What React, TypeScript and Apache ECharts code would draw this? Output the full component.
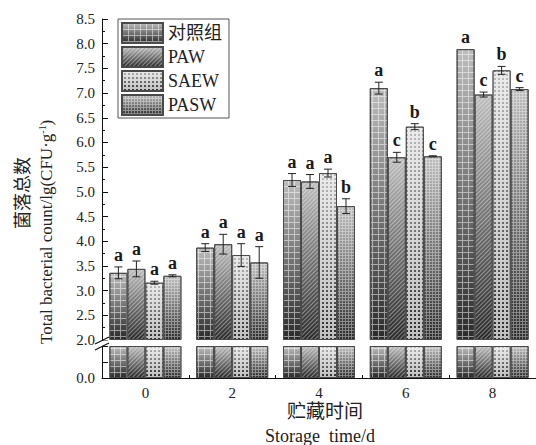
import React, { useEffect, useRef } from 'react';
import * as echarts from 'echarts';

// ---------- data ----------
const days = ['0', '2', '4', '6', '8'];
const seriesNames = ['对照组', 'PAW', 'SAEW', 'PASW'];

const controlValues = [3.36, 3.87, 5.24, 7.10, 7.89];
const controlErrors = [0.12, 0.08, 0.13, 0.12, 0.0];
const controlLetters = ['a', 'a', 'a', 'a', 'a'];

const pawValues = [3.44, 3.94, 5.21, 5.70, 6.97];
const pawErrors = [0.16, 0.20, 0.14, 0.10, 0.05];
const pawLetters = ['a', 'a', 'a', 'c', 'c'];

const saewValues = [3.16, 3.72, 5.38, 6.32, 7.46];
const saewErrors = [0.03, 0.23, 0.08, 0.06, 0.08];
const saewLetters = ['a', 'a', 'a', 'b', 'b'];

const paswValues = [3.30, 3.57, 4.71, 5.72, 7.08];
const paswErrors = [0.02, 0.32, 0.15, 0.01, 0.03];
const paswLetters = ['a', 'a', 'b', 'c', 'c'];

const upperMin = 2.0;
const upperMax = 8.5;
const upperInterval = 0.5;
const lowerMin = 0;
const lowerMax = 2.0;

const yNameCn = '菌落总数';
const yNameEn = 'Total bacterial count/lg(CFU·g{sup|-1})';
const xNameCn = '贮藏时间';
const xNameEn = 'Storage  time/d';

// ---------- styling ----------
const SERIF = "'Liberation Serif', 'DejaVu Serif', 'Noto Sans CJK SC', serif";
const TEXT = '#222';
const BAR_W = 18;

const allValues = [controlValues, pawValues, saewValues, paswValues];
const allErrors = [controlErrors, pawErrors, saewErrors, paswErrors];
const allLetters = [controlLetters, pawLetters, saewLetters, paswLetters];

const gradient = () =>
  new echarts.graphic.LinearGradient(0, 0, 0, 1, [
    { offset: 0, color: '#bdbdbd' },
    { offset: 1, color: '#2a2a2a' },
  ]);

const decals: any[] = [
  {
    symbol: 'rect', symbolSize: 1, symbolKeepAspect: false,
    color: 'rgba(255,255,255,0.5)', backgroundColor: null,
    dashArrayX: [[6, 0], [1, 5]], dashArrayY: [1, 0, 5, 0], rotation: 0,
  },
  {
    symbol: 'rect', symbolSize: 1, symbolKeepAspect: false,
    color: 'rgba(255,255,255,0.4)', backgroundColor: null,
    dashArrayX: [[12, 0]], dashArrayY: [1, 2], rotation: -Math.PI / 4,
  },
  {
    symbol: 'rect', symbolSize: 1, symbolKeepAspect: false,
    color: 'rgba(255,255,255,0.7)', backgroundColor: null,
    dashArrayX: [[4, 0], [2, 2]], dashArrayY: [2, 0, 2, 0], rotation: 0,
  },
  {
    symbol: 'rect', symbolSize: 1, symbolKeepAspect: false,
    color: 'rgba(255,255,255,0.4)', backgroundColor: null,
    dashArrayX: [[3, 0], [1, 2]], dashArrayY: [1, 0, 2, 0], rotation: 0,
  },
];

export default function App() {
  const ref = useRef<HTMLDivElement>(null);

  useEffect(() => {
    if (!ref.current) return;
    const chart = echarts.init(ref.current, undefined, { renderer: 'svg' });

    const barStyle = (k: number) => ({
      color: gradient(),
      borderColor: '#4a4a4a',
      borderWidth: 1,
      decal: decals[k],
    });

    const upperBars = seriesNames.map((name, k) => ({
      name,
      type: 'bar',
      xAxisIndex: 0,
      yAxisIndex: 0,
      barWidth: BAR_W,
      barGap: '0%',
      clip: true,
      data: allValues[k],
      itemStyle: barStyle(k),
      emphasis: { disabled: true },
    }));

    const lowerBars = seriesNames.map((name, k) => ({
      name,
      type: 'bar',
      xAxisIndex: 1,
      yAxisIndex: 1,
      barWidth: BAR_W,
      barGap: '0%',
      clip: true,
      data: allValues[k].map((v) => Math.min(v, lowerMax)),
      itemStyle: barStyle(k),
      emphasis: { disabled: true },
    }));

    const errorSeries = seriesNames.map((name, k) => ({
      name: name + '-err',
      type: 'custom',
      xAxisIndex: 0,
      yAxisIndex: 0,
      clip: false,
      z: 5,
      data: allValues[k].map((v, i) => [i, v, allErrors[k][i]]),
      encode: { x: 0, y: 1 },
      renderItem: (params: any, api: any) => {
        const ci = api.value(0);
        const v = api.value(1);
        const e = api.value(2);
        const top = api.coord([ci, v + e]);
        const bot = api.coord([ci, v - e]);
        const x = top[0] + (k - 1.5) * BAR_W;
        const children: any[] = [];
        const ls = { stroke: '#222', lineWidth: 1 };
        if (e > 0) {
          children.push(
            { type: 'line', shape: { x1: x, y1: top[1], x2: x, y2: bot[1] }, style: ls },
            { type: 'line', shape: { x1: x - 4, y1: top[1], x2: x + 4, y2: top[1] }, style: ls },
            { type: 'line', shape: { x1: x - 4, y1: bot[1], x2: x + 4, y2: bot[1] }, style: ls }
          );
        }
        children.push({
          type: 'text',
          x,
          y: top[1] - 3,
          style: {
            text: allLetters[k][params.dataIndex],
            textAlign: 'center',
            textVerticalAlign: 'bottom',
            fontFamily: SERIF,
            fontSize: 18,
            fontWeight: 'bold',
            fill: '#1a1a1a',
          },
        });
        return { type: 'group', children };
      },
    }));

    const option: any = {
      animation: false,
      backgroundColor: '#fff',
      grid: [
        { left: 102, top: 19, width: 440, height: 321 },
        { left: 102, top: 346, width: 440, height: 32 },
      ],
      xAxis: [
        { type: 'category', gridIndex: 0, data: days, show: false },
        {
          type: 'category',
          gridIndex: 1,
          data: days,
          axisLine: { lineStyle: { color: '#111', width: 1 } },
          axisTick: { show: true, inside: true, length: 3, lineStyle: { color: '#111' } },
          axisLabel: { fontFamily: SERIF, fontSize: 15, color: TEXT, margin: 7 },
        },
      ],
      yAxis: [
        {
          type: 'value',
          gridIndex: 0,
          min: upperMin,
          max: upperMax,
          interval: upperInterval,
          startValue: upperMin,
          axisLine: { show: true, lineStyle: { color: '#111', width: 1 } },
          axisTick: { show: true, inside: true, length: 6, lineStyle: { color: '#111' } },
          minorTick: { show: true, splitNumber: 2, length: 3, lineStyle: { color: '#111' } },
          splitLine: { show: false },
          axisLabel: {
            fontFamily: SERIF,
            fontSize: 15,
            color: TEXT,
            margin: 7,
            formatter: (v: number) => v.toFixed(1),
          },
        },
        {
          type: 'value',
          gridIndex: 1,
          min: lowerMin,
          max: lowerMax,
          interval: 1,
          axisLine: { show: true, lineStyle: { color: '#111', width: 1 } },
          axisTick: { show: true, inside: true, length: 6, lineStyle: { color: '#111' } },
          splitLine: { show: false },
          axisLabel: {
            fontFamily: SERIF,
            fontSize: 15,
            color: TEXT,
            margin: 7,
            formatter: (v: number) => (v === lowerMin ? v.toFixed(1) : ''),
          },
        },
      ],
      legend: {
        data: seriesNames,
        orient: 'vertical',
        left: 118,
        top: 19,
        icon: 'rect',
        itemWidth: 41,
        itemHeight: 20,
        itemGap: 2,
        padding: [3, 7, 2, 3],
        borderColor: '#555',
        borderWidth: 1,
        selectedMode: false,
        textStyle: { fontFamily: SERIF, fontSize: 18, color: TEXT },
      },
      graphic: [
        {
          type: 'text',
          x: 23,
          y: 193,
          rotation: Math.PI / 2,
          style: {
            text: yNameCn,
            textAlign: 'center',
            textVerticalAlign: 'middle',
            fontFamily: SERIF,
            fontSize: 18,
            fill: TEXT,
          },
        },
        {
          type: 'text',
          x: 46,
          y: 344,
          rotation: Math.PI / 2,
          style: {
            text: yNameEn,
            textAlign: 'left',
            textVerticalAlign: 'middle',
            fontFamily: SERIF,
            fontSize: 17,
            fill: TEXT,
            rich: {
              sup: { fontFamily: SERIF, fontSize: 10, verticalAlign: 'top', fill: TEXT },
            },
          },
        },
        {
          type: 'text',
          x: 325,
          y: 411,
          style: {
            text: xNameCn,
            textAlign: 'center',
            textVerticalAlign: 'middle',
            fontFamily: SERIF,
            fontSize: 19,
            fill: TEXT,
          },
        },
        {
          type: 'text',
          x: 320,
          y: 436,
          style: {
            text: xNameEn,
            textAlign: 'center',
            textVerticalAlign: 'middle',
            fontFamily: SERIF,
            fontSize: 18,
            fill: TEXT,
          },
        },
        { type: 'rect', shape: { x: 96, y: 340.5, width: 12, height: 5 }, style: { fill: '#fff' }, z: 100 },
        { type: 'line', shape: { x1: 95, y1: 344, x2: 109, y2: 337 }, style: { stroke: '#111', lineWidth: 1.2 }, z: 101 },
        { type: 'line', shape: { x1: 95, y1: 350, x2: 109, y2: 343 }, style: { stroke: '#111', lineWidth: 1.2 }, z: 101 },
      ],
      series: [...upperBars, ...lowerBars, ...errorSeries],
    };

    chart.setOption(option);
    return () => chart.dispose();
  }, []);

  return (
    <div
      ref={ref}
      style={{ position: 'fixed', left: 0, top: 0, width: 536, height: 445, background: '#fff' }}
    />
  );
}
